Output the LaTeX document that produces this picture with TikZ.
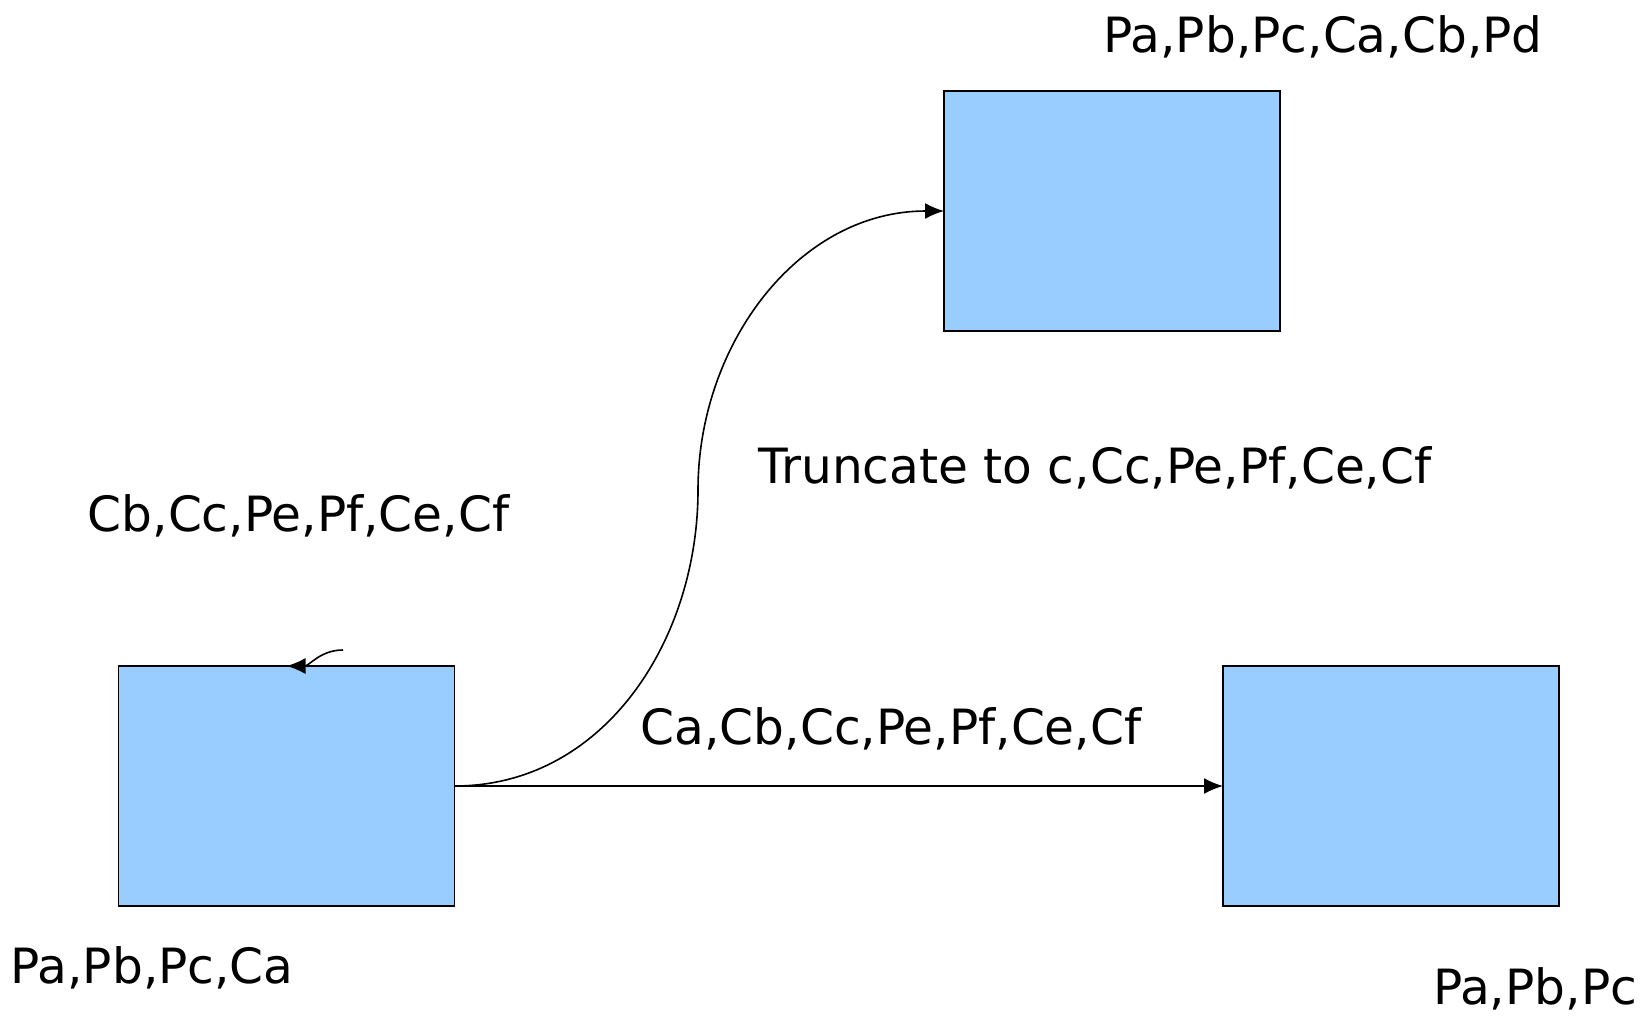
\documentclass[tikz,border=0pt]{standalone}
\usepackage{fontspec}
\setmainfont{DejaVu Sans}
\usetikzlibrary{arrows.meta}
\definecolor{boxblue}{RGB}{153,204,255}

\begin{document}
\begin{tikzpicture}[x=0.5pt,y=-0.5pt,>={Latex[length=9.5pt,width=8pt]},
  box/.style={draw,line width=0.7pt,fill=boxblue,minimum width=168pt,minimum height=120pt,inner sep=0pt,outer sep=0pt},
  txt/.style={anchor=base,inner sep=0pt,font=\fontsize{24.3}{29}\selectfont}]
\useasboundingbox (0,0) rectangle (1642,1018);
% the three boxes
\node[box] (src) at (286.5,786) {};
\node[box] (top) at (1112,211) {};
\node[box] (rgt) at (1391,786) {};
% texts
\node[txt] (ttop) at (1323,52) {Pa,Pb,Pc,Ca,Cb,Pd};
\node[txt] (ttrunc) at (1095,483) {Truncate to c,Cc,Pe,Pf,Ce,Cf};
\node[txt] (tleft) at (298.5,531) {Cb,Cc,Pe,Pf,Ce,Cf};
\node[txt] (tmid) at (891,744) {Ca,Cb,Cc,Pe,Pf,Ce,Cf};
\node[txt] (tsrc) at (152,983) {Pa,Pb,Pc,Ca};
\node[txt] (trgt) at (1535,1004) {Pa,Pb,Pc};
% arrows
\coordinate (bend) at (698,490);
\coordinate (hook) at (343,650);
\draw [->,thick] (src.east) to[out=0,in=-90] (bend) to[out=90,in=180] (top.west);
\draw [->,thick] (src.east) -- (rgt.west);
\draw [->,thick] (hook) to[out=180,in=0] (src.north);
\end{tikzpicture}
\end{document}
